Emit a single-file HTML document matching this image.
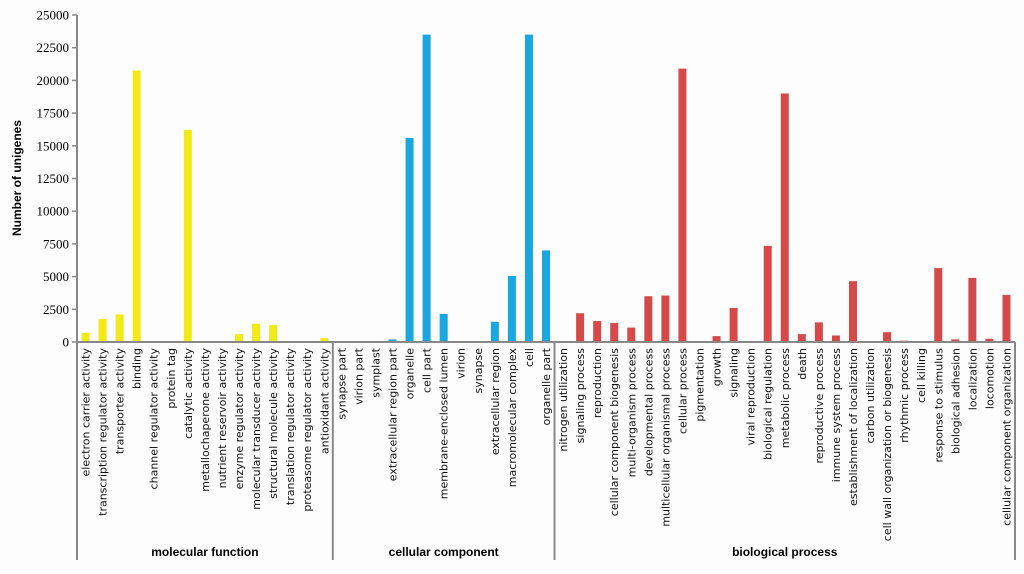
<!DOCTYPE html>
<html><head><meta charset="utf-8"><style>
html,body{margin:0;padding:0;background:#fff;}
svg{display:block;}
</style></head><body>
<svg id="chart" width="1024" height="574" viewBox="0 0 1024 574" xmlns="http://www.w3.org/2000/svg">
<rect width="1024" height="574" fill="#fdfdfd"/>
<g id="yaxis"></g>
<g id="bars"></g>
<g id="xlabels"></g>
<g id="groups"></g>
<text transform="translate(21,178) rotate(-90)" text-anchor="middle" font-family="Liberation Sans, sans-serif" font-size="12" font-weight="bold" fill="#000">Number of unigenes</text>
</svg>
<script>
const categories = ["electron carrier activity","transcription regulator activity","transporter activity","binding","channel regulator activity","protein tag","catalytic activity","metallochaperone activity","nutrient reservoir activity","enzyme regulator activity","molecular transducer activity","structural molecule activity","translation regulator activity","proteasome regulator activity","antioxidant activity",
"synapse part","virion part","symplast","extracellular region part","organelle","cell part","membrane-enclosed lumen","virion","synapse","extracellular region","macromolecular complex","cell","organelle part",
"nitrogen utilization","signaling process","reproduction","cellular component biogenesis","multi-organism process","developmental process","multicellular organismal process","cellular process","pigmentation","growth","signaling","viral reproduction","biological regulation","metabolic process","death","reproductive process","immune system process","establishment of localization","carbon utilization","cell wall organization or biogenesis","rhythmic process","cell killing","response to stimulus","biological adhesion","localization","locomotion","cellular component organization"];
const values = [700,1750,2100,20750,0,0,16200,0,0,600,1400,1300,0,0,300,
0,0,0,200,15600,23500,2150,0,0,1550,5050,23500,7000,
0,2200,1600,1450,1100,3500,3550,20900,0,450,2600,0,7350,19000,600,1500,500,4650,0,750,100,0,5650,200,4900,250,3600];
const groupNames = ["molecular function","cellular component","biological process"];
const groupSizes = [15,13,27];
const groupColors = ["#f2ea14","#1aa6df","#d54a48"];
const yTicks = [0,2500,5000,7500,10000,12500,15000,17500,20000,22500,25000];

const NS="http://www.w3.org/2000/svg";
const X0=77,X1=1015,Y0=342,YT=15,YMAX=25000;
const step=(X1-X0)/categories.length;
const y=v=>Y0-(v/YMAX)*(Y0-YT);
const xc=i=>X0+step*(i+0.5);
function mk(tag,attrs,parent){const e=document.createElementNS(NS,tag);for(const k in attrs)e.setAttribute(k,attrs[k]);parent.appendChild(e);return e;}
const ya=document.getElementById('yaxis'),bars=document.getElementById('bars'),xl=document.getElementById('xlabels'),gl=document.getElementById('groups');
let line=mk('line',{x1:X0,y1:YT,x2:X0,y2:Y0,stroke:'#888','stroke-width':2},ya);


yTicks.forEach(t=>{
 const tl=mk('line',{x1:X0-5,x2:X0,y1:y(t),y2:y(t),stroke:'#888','stroke-width':1.5},ya);
 
 
 const tx=mk('text',{x:X0-8,y:y(t)+4.5,'text-anchor':'end','font-family':'Liberation Serif, serif','font-size':13},ya);
 tx.textContent=t;
 
 
});
let gi=0,cnt=0;const groupOf=[];
groupSizes.forEach((s,g)=>{for(let k=0;k<s;k++)groupOf.push(g);});
categories.forEach((c,i)=>{
 const v=values[i];
 const b=mk('rect',{x:xc(i)-4,y:y(v),width:8,height:Y0-y(v),fill:groupColors[groupOf[i]]},bars);
 
 
 const t=mk('text',{transform:`translate(${xc(i)+4},${Y0+6}) rotate(-90)`,'text-anchor':'end','font-family':'DejaVu Sans, sans-serif','font-size':11,fill:'#111'},xl);
 t.textContent=c;
 
 
});
const base=mk('line',{x1:X0,y1:Y0,x2:X1,y2:Y0,stroke:'#888','stroke-width':2},gl);


let start=0;
const bounds=[0];
groupSizes.forEach(s=>{start+=s;bounds.push(start);});
bounds.forEach(b=>{
 const l=mk('line',{x1:X0+b*step,x2:X0+b*step,y1:Y0,y2:560,stroke:'#888','stroke-width':2},gl);
 
 
});
groupNames.forEach((n,g)=>{
 const mx=X0+step*(bounds[g]+bounds[g+1])/2;
 const t=mk('text',{x:mx,y:556,'text-anchor':'middle','font-family':'Liberation Sans, sans-serif','font-size':12,'font-weight':'bold'},gl);
 t.textContent=n;
 
 
});
</script>
</body></html>
